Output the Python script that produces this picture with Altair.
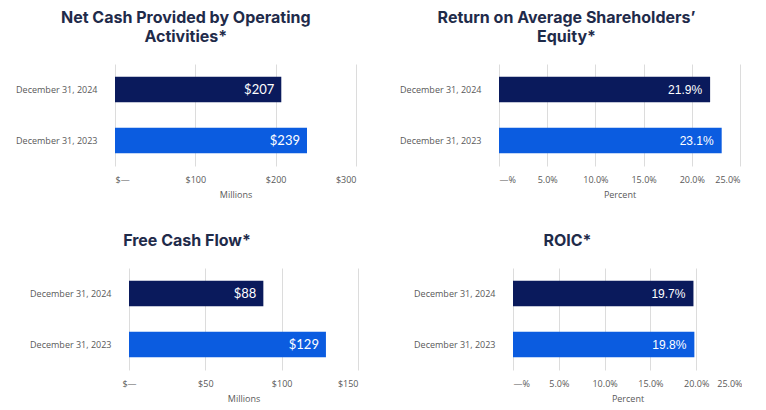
import altair as alt
import pandas as pd

periods = ["December 31, 2024", "December 31, 2023"]
ocf_values = [207, 239]
roe_values = [21.9, 23.1]
fcf_values = [88, 129]
roic_values = [19.7, 19.8]
bar_colors = ["#0a1a5c", "#0b5ce0"]

ocf_ticks = [0, 100, 200, 300]
pct_ticks = [0, 5, 10, 15, 20, 25]
fcf_ticks = [0, 50, 100, 150]

TITLE_COLOR = "#1f2b4a"
LABEL_COLOR = "#595959"


def panel(values, title_lines, ticks, width, kind, axis_title, y_extent,
          lead=0, label_pad=18):
    """lead: empty space (px) kept left of the zero line inside the plot."""
    if kind == "dollar":
        labels = ["$" + str(v) for v in values]
        label_expr = "datum.value == 0 ? '$\u2014' : '$' + datum.value"
        label_font, label_size, label_dx = "Lato", 13, -7
    else:
        labels = [f"{v:.1f}%" for v in values]
        label_expr = "datum.value == 0 ? '\u2014%' : format(datum.value, '.1f') + '%'"
        label_font, label_size, label_dx = "Liberation Sans", 12, -8
    df = pd.DataFrame({"period": periods, "value": values, "label": labels})
    lo = ticks[0] - (ticks[-1] - ticks[0]) * lead / width
    x = alt.X(
        "value:Q",
        scale=alt.Scale(domain=[lo, ticks[-1]], nice=False, zero=False),
        axis=alt.Axis(
            values=ticks,
            labelExpr=label_expr,
            title=axis_title,
            grid=True,
            gridColor="#dcdcdc",
            domain=False,
            ticks=False,
            labelPadding=9,
            titlePadding=6,
            labelFontSize=9,
            titleFontSize=9,
            labelColor=LABEL_COLOR,
            titleColor=LABEL_COLOR,
            labelFont="Open Sans",
            titleFont="Open Sans",
            titleFontWeight="normal",
            titleX=lead + width / 2,
        ),
    )
    y = alt.Y(
        "period:N",
        sort=periods,
        scale=alt.Scale(paddingInner=0.5, paddingOuter=0.25),
        axis=alt.Axis(
            title=None,
            domain=False,
            ticks=False,
            grid=False,
            labelPadding=label_pad,
            labelFontSize=9,
            labelColor=LABEL_COLOR,
            labelFont="Open Sans",
            minExtent=y_extent,
            maxExtent=y_extent,
        ),
    )
    base = alt.Chart(df)
    bars = base.mark_bar().encode(
        x=x,
        x2=alt.datum(0),
        y=y,
        color=alt.Color("period:N", scale=alt.Scale(domain=periods, range=bar_colors), legend=None),
    )
    text = base.mark_text(
        align="right", baseline="middle", dx=label_dx, color="white",
        fontSize=label_size, font=label_font
    ).encode(x="value:Q", y=alt.Y("period:N", sort=periods), text="label:N")
    return alt.layer(bars, text).properties(
        width=width + lead,
        height=102,
        title=alt.TitleParams(
            text=title_lines,
            fontSize=16,
            font="Inter",
            fontWeight=700,
            color=TITLE_COLOR,
            anchor="middle",
            frame="bounds",
            lineHeight=19,
            offset=19,
        ),
    )


p1 = panel(ocf_values, ["Net Cash Provided by Operating", "Activities*"], ocf_ticks, 241, "dollar", "Millions", 99)
p2 = panel(roe_values, ["Return on Average Shareholders\u2019", "Equity*"], pct_ticks, 241, "pct", "Percent", 106)
p3 = panel(fcf_values, ["Free Cash Flow*"], fcf_ticks, 229, "dollar", "Millions", 99, lead=14, label_pad=4)
p4 = panel(roic_values, ["ROIC*"], pct_ticks, 229, "pct", "Percent", 120)

chart = alt.concat(
    p1, p2, p3, p4,
    columns=2,
    align="none",
    spacing={"row": 34, "column": 35},
).properties(
    padding={"left": 7, "top": 2, "right": 0, "bottom": 0}
).configure_view(stroke=None)

chart.save("out.html", embed_options={"renderer": "svg", "actions": False})
